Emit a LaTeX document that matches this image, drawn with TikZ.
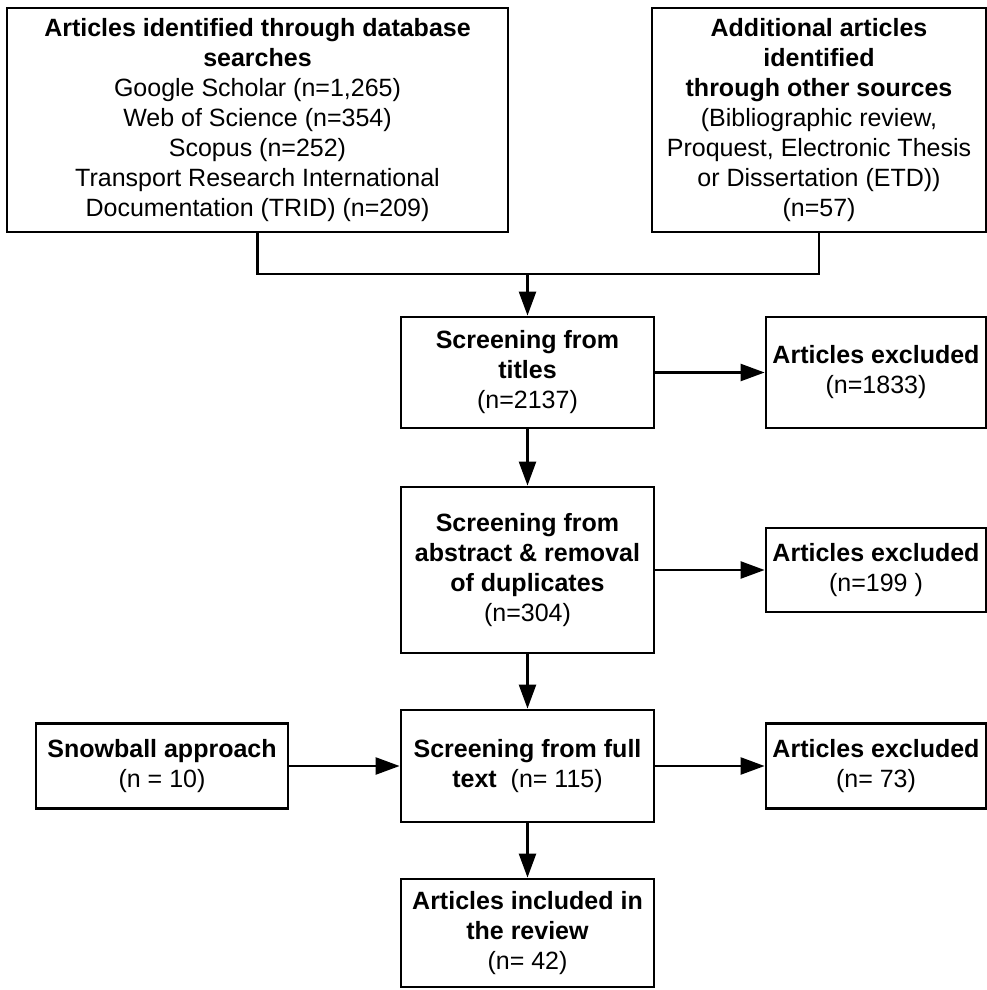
\documentclass[tikz,border=0pt]{standalone}
\usepackage{fontspec}
\setmainfont{Liberation Sans}
\usepackage{tikz}
\usetikzlibrary{arrows.meta}
\tikzset{
  stagebox/.style={draw, line width=2.8pt, align=center, inner sep=0pt,
    font=\fontsize{25}{30}\selectfont},
  flow/.style={line width=2.4pt},
}

\begin{document}
\begin{tikzpicture}[x=1pt, y=-1pt, >={Triangle[length=24pt, width=17pt]}]
    \useasboundingbox (0,0) rectangle (987,990);
    % identification
    \node[stagebox, minimum width=501, minimum height=224] (db) at (257.5,120)
      {\textbf{Articles identified through database}\\ \textbf{searches}\\
       Google Scholar (n=1,265)\\ Web of Science (n=354)\\ Scopus (n=252)\\
       Transport Research International\\ Documentation (TRID) (n=209)};
    \node[stagebox, minimum width=334, minimum height=224] (other) at (819,120)
      {\textbf{Additional articles}\\ \textbf{identified}\\ \textbf{through other sources}\\
       (Bibliographic review,\\ Proquest, Electronic Thesis\\ or Dissertation (ETD))\\ (n=57)};
    % screening column
    \node[stagebox, minimum width=253, minimum height=111] (titles) at (527.5,372.5)
      {\textbf{Screening from}\\ \textbf{titles}\\ (n=2137)};
    \node[stagebox, minimum width=253, minimum height=166] (abstr) at (527.5,570)
      {\textbf{Screening from}\\ \textbf{abstract \& removal}\\ \textbf{of duplicates}\\ (n=304)};
    \node[stagebox, minimum width=253, minimum height=112] (full) at (527.5,766)
      {\textbf{Screening from full}\\ \textbf{text}\ \ (n= 115)};
    \node[stagebox, minimum width=253, minimum height=108] (incl) at (527.5,933)
      {\textbf{Articles included in}\\ \textbf{the review}\\ (n= 42)};
    % side boxes
    \node[stagebox, minimum width=220, minimum height=111] (exc1) at (876,372.5)
      {\textbf{Articles excluded}\\ (n=1833)};
    \node[stagebox, minimum width=220, minimum height=84] (exc2) at (876,570)
      {\textbf{Articles excluded}\\ (n=199 )};
    \node[stagebox, minimum width=220, minimum height=85] (exc3) at (876,766)
      {\textbf{Articles excluded}\\ (n= 73)};
    \node[stagebox, minimum width=252, minimum height=85] (snow) at (162,766)
      {\textbf{Snowball approach}\\ (n = 10)};

    % connectors
    \coordinate (join) at (527.5,274);
    \draw[flow] (db.south) |- (join) -| (other.south);
    \draw[flow, ->] (join) -- (titles.north);
    \draw[flow, ->] (titles) -- (abstr);
    \draw[flow, ->] (abstr) -- (full);
    \draw[flow, ->] (full) -- (incl);
    \draw[flow, ->] (titles) -- (exc1);
    \draw[flow, ->] (abstr) -- (exc2);
    \draw[flow, ->] (full) -- (exc3);
    \draw[flow, ->] (snow) -- (full);
\end{tikzpicture}
\end{document}
